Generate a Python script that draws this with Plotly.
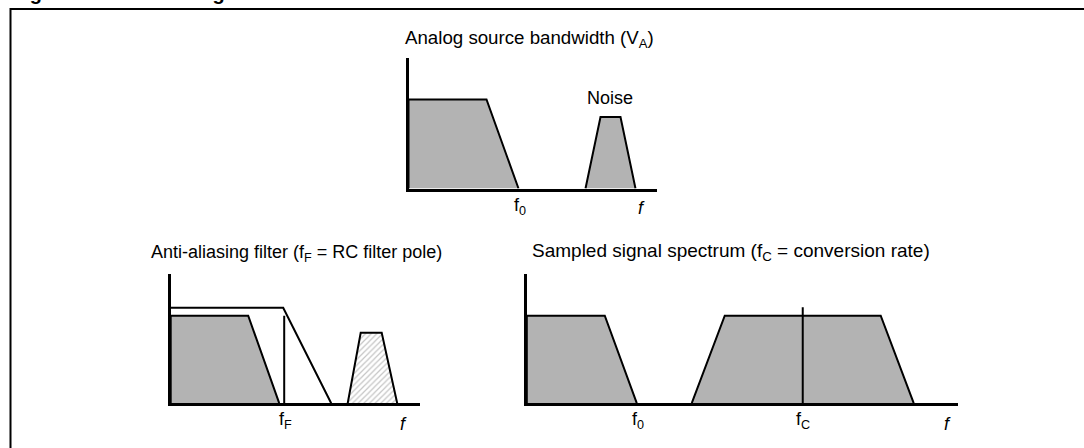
import plotly.graph_objects as go

W, H = 1084, 448

# ---------------- data (schematic frequency / amplitude units) ----------------
# Panel A: analog source bandwidth
a_sig_x = [0, 0, 78, 110]
a_sig_y = [0, 89, 89, 0]
a_noise_x = [177, 192, 212, 227]
a_noise_y = [0, 71.5, 71.5, 0]
a_xmax, a_ymax = 248.5, 130.5

# Panel B: anti-aliasing filter
b_sig_x = [0, 0, 77.5, 108.5]
b_sig_y = [0, 87.5, 87.5, 0]
b_filt_x = [0, 112.5, 160.5]
b_filt_y = [95.5, 95.5, 0]
b_pole_x = [113.5, 113.5]
b_pole_y = [0, 87.5]
b_noise_x = [177, 190, 211, 226.5]
b_noise_y = [0, 70.5, 70.5, 0]
b_xmax, b_ymax = 249.3, 129.2

# Panel C: sampled signal spectrum
c_sig_x = [0, 0, 78, 110]
c_sig_y = [0, 87.5, 87.5, 0]
c_alias_x = [165, 198, 354, 387]
c_alias_y = [0, 87.5, 87.5, 0]
c_rate_x = [276, 276]
c_rate_y = [0, 96]
c_xmax, c_ymax = 431, 129.2

GRAY = "#b3b3b3"
FONT = "Liberation Sans, Arial, Helvetica, sans-serif"
FS = 18


def px_x(p):
    return p / W


def px_y(p):
    return 1 - p / H


fig = go.Figure()

line = dict(color="black", width=2)

# Panel A
fig.add_trace(go.Scatter(x=a_sig_x, y=a_sig_y, mode="lines", fill="toself",
                         fillcolor=GRAY, line=line, xaxis="x", yaxis="y"))
fig.add_trace(go.Scatter(x=a_noise_x, y=a_noise_y, mode="lines", fill="toself",
                         fillcolor=GRAY, line=line, xaxis="x", yaxis="y"))
# Panel B
fig.add_trace(go.Scatter(x=b_sig_x, y=b_sig_y, mode="lines", fill="toself",
                         fillcolor=GRAY, line=line, xaxis="x2", yaxis="y2"))
fig.add_trace(go.Scatter(x=b_filt_x, y=b_filt_y, mode="lines",
                         line=line, xaxis="x2", yaxis="y2"))
fig.add_trace(go.Scatter(x=b_pole_x, y=b_pole_y, mode="lines",
                         line=line, xaxis="x2", yaxis="y2"))
fig.add_trace(go.Scatter(x=b_noise_x, y=b_noise_y, mode="lines", fill="toself",
                         fillcolor="white",
                         fillpattern=dict(shape="/", fgcolor="#8a8a8a", bgcolor="white",
                                          size=4, solidity=0.3),
                         line=line, xaxis="x2", yaxis="y2"))
# Panel C
fig.add_trace(go.Scatter(x=c_sig_x, y=c_sig_y, mode="lines", fill="toself",
                         fillcolor=GRAY, line=line, xaxis="x3", yaxis="y3"))
fig.add_trace(go.Scatter(x=c_alias_x, y=c_alias_y, mode="lines", fill="toself",
                         fillcolor=GRAY, line=line, xaxis="x3", yaxis="y3"))
fig.add_trace(go.Scatter(x=c_rate_x, y=c_rate_y, mode="lines",
                         line=line, xaxis="x3", yaxis="y3"))

ax_common = dict(showline=True, linewidth=3, linecolor="black", showgrid=False,
                 zeroline=False, showticklabels=False, ticks="", fixedrange=True)

fig.update_layout(
    width=W, height=H,
    margin=dict(l=0, r=0, t=0, b=0),
    paper_bgcolor="white", plot_bgcolor="rgba(0,0,0,0)",
    showlegend=False,
    font=dict(family=FONT, size=FS, color="black"),
    xaxis=dict(domain=[px_x(408.5), px_x(657)], range=[0, a_xmax], anchor="y", **ax_common),
    yaxis=dict(domain=[px_y(188.5), px_y(58)], range=[0, a_ymax], anchor="x", **ax_common),
    xaxis2=dict(domain=[px_x(170.7), px_x(420)], range=[0, b_xmax], anchor="y2", **ax_common),
    yaxis2=dict(domain=[px_y(403.2), px_y(274)], range=[0, b_ymax], anchor="x2", **ax_common),
    xaxis3=dict(domain=[px_x(526.8), px_x(957.7)], range=[0, c_xmax], anchor="y3", **ax_common),
    yaxis3=dict(domain=[px_y(403.2), px_y(274)], range=[0, c_ymax], anchor="x3", **ax_common),
)

# Frame
fig.add_shape(type="rect", xref="paper", yref="paper",
              x0=px_x(10.5), x1=1.05, y0=-0.05, y1=px_y(9),
              line=dict(color="black", width=2), fillcolor="rgba(0,0,0,0)")

# Cut-off figure caption at the very top (only its lower edge is visible)
fig.add_annotation(text="<b>Figure 33. Antialiasing filter and conversion rate</b>",
                   xref="paper", yref="paper", x=px_x(10), y=1,
                   xanchor="left", yanchor="bottom", yshift=-6, showarrow=False,
                   font=dict(family=FONT, size=20, color="black"))

# Titles
titles = [
    ("Analog source bandwidth (V<sub>A</sub>)", 529, 38.5, 18.7),
    ("Anti-aliasing filter (f<sub>F</sub> = RC filter pole)", 296.7, 253, 18),
    ("Sampled signal spectrum (f<sub>C</sub> = conversion rate)", 730.7, 252, 19),
]
for t, cx, cy, fs in titles:
    fig.add_annotation(text=t, xref="paper", yref="paper", x=px_x(cx), y=px_y(cy),
                       xanchor="center", yanchor="middle", showarrow=False,
                       font=dict(family=FONT, size=fs, color="black"))

# Noise label
fig.add_annotation(text="Noise", xref="x", yref="y", x=201.5, y=90.5,
                   xanchor="center", yanchor="middle", showarrow=False,
                   font=dict(family=FONT, size=FS, color="black"))

# Axis labels (frequency markers)
labels = [
    ("f<sub>0</sub>", "x", "y", 111.5, -4),
    ("<i>f</i>", "x", "y", 232.5, -7),
    ("f<sub>F</sub>", "x2", "y2", 114.3, -4),
    ("<i>f</i>", "x2", "y2", 232.3, -9),
    ("f<sub>0</sub>", "x3", "y3", 111.2, -4),
    ("f<sub>C</sub>", "x3", "y3", 276.2, -4),
    ("<i>f</i>", "x3", "y3", 421.2, -9),
]
for t, xr, yr, xv, ys in labels:
    fig.add_annotation(text=t, xref=xr, yref=yr, x=xv, y=0, xanchor="center",
                       yanchor="top", yshift=ys, showarrow=False,
                       font=dict(family=FONT, size=FS, color="black"))

fig.write_html("out.html",
               config={"displayModeBar": False, "staticPlot": True},
               post_script="document.body.style.margin='0';document.body.style.padding='0';")
